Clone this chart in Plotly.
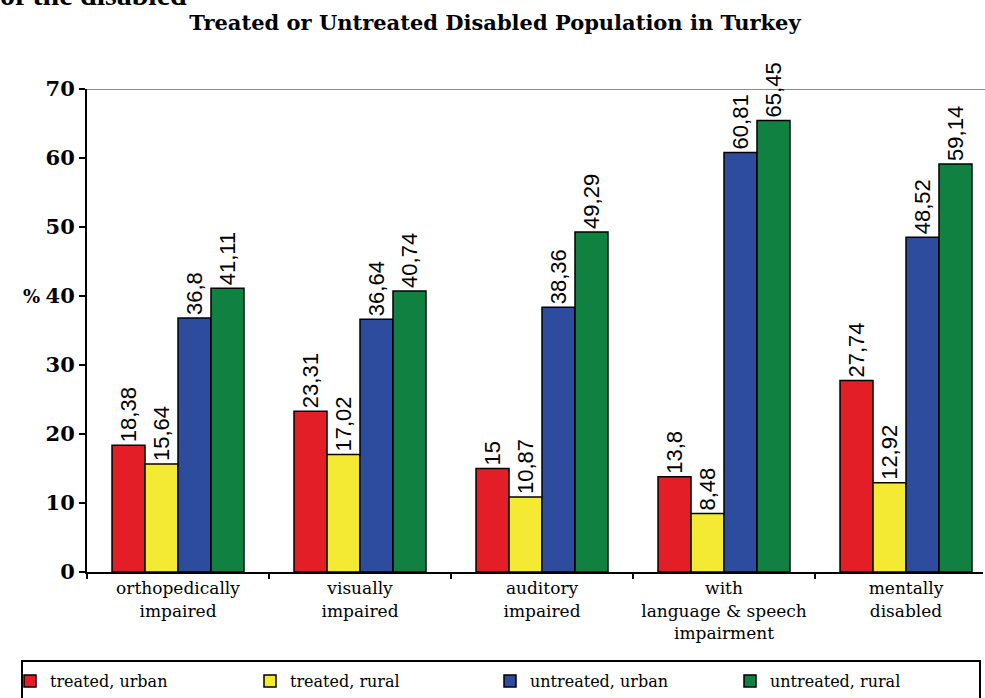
import plotly.graph_objects as go

# Disability groups (x categories) and the four population series, in %
categories = [
    "orthopedically<br>impaired",
    "visually<br>impaired",
    "auditory<br>impaired",
    "with<br>language & speech<br>impairment",
    "mentally<br>disabled",
]
treated_urban = [18.38, 23.31, 15.0, 13.8, 27.74]
treated_rural = [15.64, 17.02, 10.87, 8.48, 12.92]
untreated_urban = [36.8, 36.64, 38.36, 60.81, 48.52]
untreated_rural = [41.11, 40.74, 49.29, 65.45, 59.14]

series_names = ["treated, urban", "treated, rural", "untreated, urban", "untreated, rural"]
series_values = [treated_urban, treated_rural, untreated_urban, untreated_rural]
series_colors = ["#E41E26", "#F5EA33", "#2D4C9E", "#108140"]

SERIF = "DejaVu Serif"
SANS = "Liberation Sans, Arial, sans-serif"

W, H = 985, 698
L, R, T, B = 87, 2, 89, 126
plot_w = W - L - R
plot_h = H - T - B


def px_x(p):
    """pixel x -> paper x"""
    return (p - L) / plot_w


def px_y(p):
    """pixel y (from top) -> paper y"""
    return (H - B - p) / plot_h


def fmt(v):
    return f"{v:g}".replace(".", ",")


fig = go.Figure()
for name, vals, col in zip(series_names, series_values, series_colors):
    fig.add_trace(go.Bar(
        name=name,
        x=categories,
        y=vals,
        marker=dict(color=col, line=dict(color="black", width=1.5)),
        text=[fmt(v) for v in vals],
        textposition="outside",
        textangle=-90,
        constraintext="none",
        cliponaxis=False,
        textfont=dict(family=SANS, size=22, color="black"),
    ))

# light frame line along the top of the plotting area
fig.add_shape(type="line", xref="paper", yref="y", x0=0, x1=px_x(W), y0=70, y1=70,
              line=dict(color="#8C8C8C", width=2), layer="below")

# legend frame
fig.add_shape(type="rect", xref="paper", yref="paper",
              x0=px_x(22), x1=px_x(980), y0=px_y(708), y1=px_y(661),
              line=dict(color="black", width=2), fillcolor="rgba(0,0,0,0)")

# y axis unit label
fig.add_annotation(text="<b>%</b>", xref="paper", yref="y", x=px_x(21), y=40,
                   showarrow=False, font=dict(family=SERIF, size=18, color="black"))

# caption fragment above the chart
fig.add_annotation(text="<b>of the disabled</b>", xref="paper", yref="paper",
                   x=px_x(-2), y=px_y(13), xanchor="left", yanchor="bottom",
                   showarrow=False,
                   font=dict(family="Liberation Serif, serif", size=30, color="black"))

fig.update_layout(
    width=W, height=H,
    margin=dict(l=L, r=R, t=T, b=B, autoexpand=False),
    paper_bgcolor="white",
    plot_bgcolor="white",
    barmode="group",
    bargap=0.275,
    bargroupgap=0,
    title=dict(
        text="<b>Treated or Untreated Disabled Population in Turkey</b>",
        x=495 / W, xref="container", xanchor="center",
        y=1 - 23 / H, yref="container", yanchor="middle",
        font=dict(family=SERIF, size=21, color="black"),
    ),
    xaxis=dict(
        range=[-0.5, -0.5 + plot_w / 182],
        showline=True, linecolor="black", linewidth=2,
        ticks="outside", tickson="boundaries", ticklen=5, tickcolor="black", tickwidth=2,
        showgrid=False,
        tickfont=dict(family=SERIF, size=17, color="black"),
    ),
    yaxis=dict(
        range=[0, 70], dtick=10,
        showline=True, linecolor="black", linewidth=2,
        ticks="outside", ticklen=6, tickcolor="black", tickwidth=2,
        showgrid=False, zeroline=False,
        tickfont=dict(family=SERIF, size=21, color="black"),
        tickprefix="<b>", ticksuffix="</b>",
    ),
    showlegend=True,
    legend=dict(
        orientation="h",
        x=px_x(10), xanchor="left",
        y=px_y(664), yanchor="top",
        entrywidth=195, entrywidthmode="pixels",
        itemwidth=30,
        bgcolor="rgba(0,0,0,0)", borderwidth=0,
        font=dict(family=SERIF, size=16, color="black"),
        traceorder="normal",
    ),
)

fig.write_html("out.html")
